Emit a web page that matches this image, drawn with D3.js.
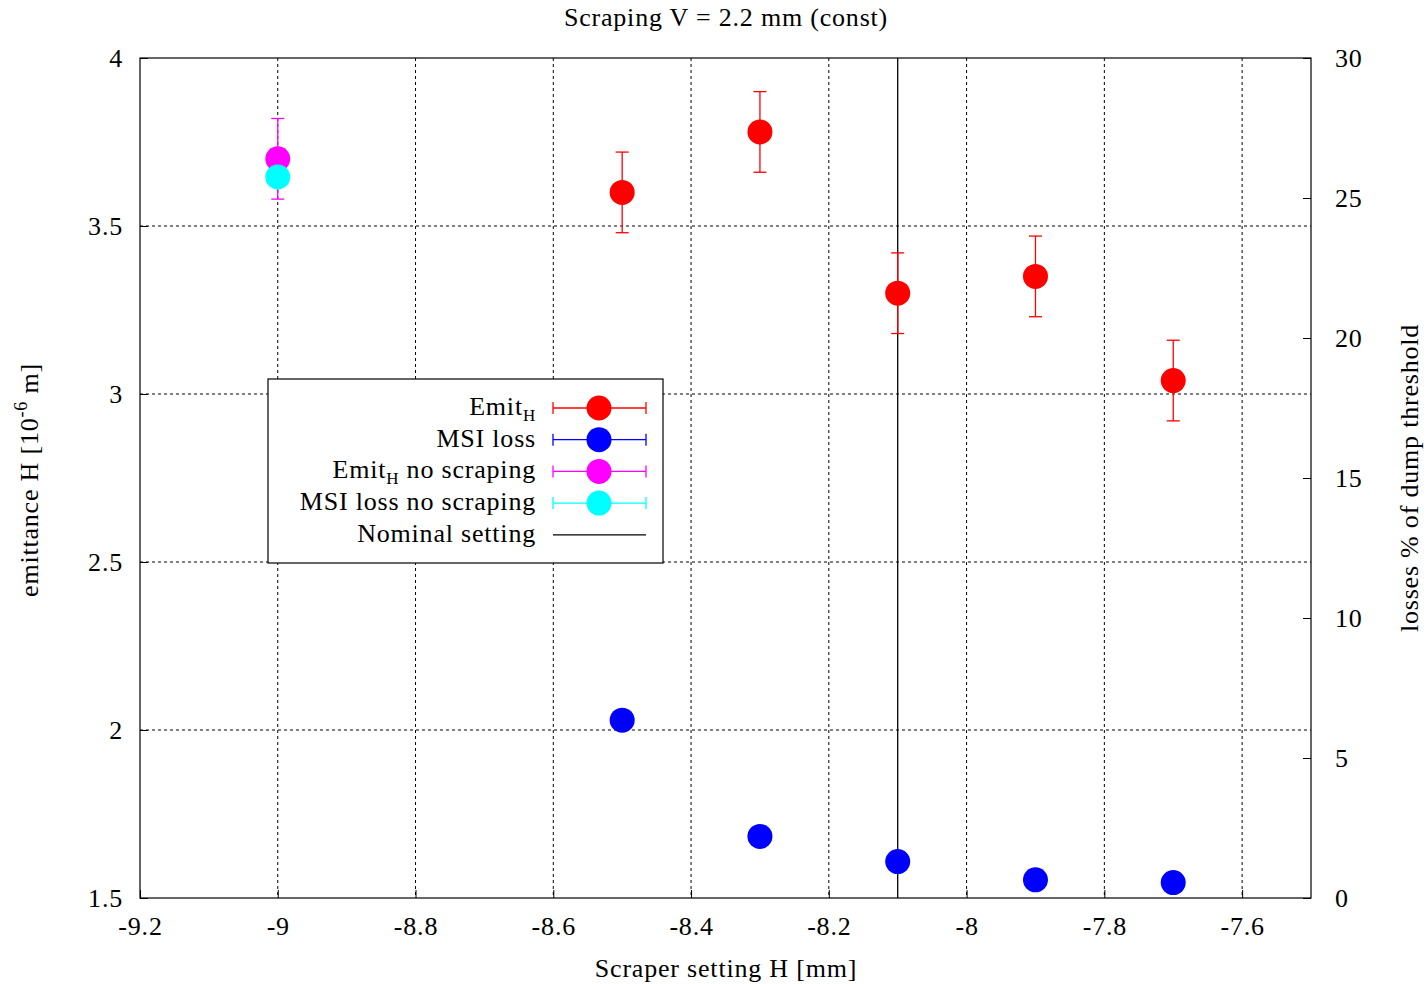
<!DOCTYPE html>
<html>
<head>
<meta charset="utf-8">
<script src="https://cdn.jsdelivr.net/npm/d3@7"></script>
<style>
  body { margin: 0; background: #fff; }
  text { font-family: "Liberation Serif", "DejaVu Serif", serif; fill: #000; letter-spacing: 0.8px; }
</style>
</head>
<body>
<div class="chart"></div>
<script>
// scraper setting H [mm]
const scraperH = [-8.5, -8.3, -8.1, -7.9, -7.7];
// emittance H [1e-6 m] with symmetric error
const emitH = [3.60, 3.78, 3.30, 3.35, 3.04];
const emitErr = [0.12, 0.12, 0.12, 0.12, 0.12];
// MSI loss, % of dump threshold (right axis)
const msiLoss = [6.35, 2.2, 1.3, 0.65, 0.55];
// no scraping reference
const noScrapeH = [-9.0];
const emitNoScrape = [3.70];
const emitNoScrapeErr = [0.12];
const msiNoScrape = [25.75];
const nominalH = -8.1;

const xTicks = [-9.2, -9, -8.8, -8.6, -8.4, -8.2, -8, -7.8, -7.6];
const yTicks = [1.5, 2, 2.5, 3, 3.5, 4];
const y2Ticks = [0, 5, 10, 15, 20, 25, 30];

const W = 1428, H = 984;
const margin = { top: 58, right: 117, bottom: 86, left: 140 };
const width = W - margin.left - margin.right;
const height = H - margin.top - margin.bottom;

const svg = d3.select(".chart").append("svg")
    .attr("width", W).attr("height", H);
const g = svg.append("g")
    .attr("transform", "translate(" + margin.left + "," + margin.top + ")");

const x = d3.scaleLinear().domain([-9.2, -7.5]).range([0, width]);
const y = d3.scaleLinear().domain([1.5, 4]).range([height, 0]);
const y2 = d3.scaleLinear().domain([0, 30]).range([height, 0]);

// grid
g.selectAll(".gx").data(xTicks.slice(1)).enter().append("line")
    .attr("x1", d => x(d)).attr("x2", d => x(d))
    .attr("y1", 0).attr("y2", height)
    .attr("stroke", "#000").attr("stroke-width", 1)
    .attr("stroke-dasharray", "3,3");
g.selectAll(".gy").data(yTicks.slice(1, -1)).enter().append("line")
    .attr("x1", 0).attr("x2", width)
    .attr("y1", d => y(d)).attr("y2", d => y(d))
    .attr("stroke", "#000").attr("stroke-width", 1)
    .attr("stroke-dasharray", "3,3");

// axes (ticks pointing inward), plain hyphen minus like the original
const fs = 26;
const fmt = d => String(d);
const xAxis = g.append("g").attr("transform", "translate(0," + height + ")")
    .call(d3.axisBottom(x).tickValues(xTicks).tickFormat(fmt).tickSizeInner(-8).tickSizeOuter(0).tickPadding(21));
const yAxis = g.append("g")
    .call(d3.axisLeft(y).tickValues(yTicks).tickFormat(fmt).tickSizeInner(-8).tickSizeOuter(0).tickPadding(17));
const y2Axis = g.append("g").attr("transform", "translate(" + width + ",0)")
    .call(d3.axisRight(y2).tickValues(y2Ticks).tickFormat(fmt).tickSizeInner(-8).tickSizeOuter(0).tickPadding(24));
[xAxis, yAxis, y2Axis].forEach(a => {
    a.select(".domain").remove();
    a.selectAll("text").style("font-size", fs + "px").attr("font-family", null);
    a.selectAll("line").attr("stroke", "#000");
});
xAxis.selectAll("text").attr("dy", "0.6em");

// border
g.append("rect").attr("x", 0).attr("y", 0).attr("width", width).attr("height", height)
    .attr("fill", "none").attr("stroke", "#000").attr("stroke-width", 1.2);

// nominal setting
g.append("line")
    .attr("x1", x(nominalH)).attr("x2", x(nominalH))
    .attr("y1", 0).attr("y2", height)
    .attr("stroke", "#000").attr("stroke-width", 1.3);

const R = 12.5, cap = 6.5;
function errorBars(xs, ys, es, scale, color) {
    const eg = g.append("g").attr("stroke", color).attr("stroke-width", 1.3);
    xs.forEach((xv, i) => {
        const px = x(xv), lo = scale(ys[i] - es[i]), hi = scale(ys[i] + es[i]);
        eg.append("line").attr("x1", px).attr("x2", px).attr("y1", lo).attr("y2", hi);
        eg.append("line").attr("x1", px - cap).attr("x2", px + cap).attr("y1", lo).attr("y2", lo);
        eg.append("line").attr("x1", px - cap).attr("x2", px + cap).attr("y1", hi).attr("y2", hi);
    });
}
function points(xs, ys, scale, color) {
    g.append("g").selectAll("circle").data(xs).enter().append("circle")
        .attr("cx", d => x(d)).attr("cy", (d, i) => scale(ys[i]))
        .attr("r", R).attr("fill", color);
}

errorBars(scraperH, emitH, emitErr, y, "#ff0000");
points(scraperH, emitH, y, "#ff0000");
points(scraperH, msiLoss, y2, "#0000ff");
errorBars(noScrapeH, emitNoScrape, emitNoScrapeErr, y, "#ff00ff");
points(noScrapeH, emitNoScrape, y, "#ff00ff");
points(noScrapeH, msiNoScrape, y2, "#00ffff");

// legend
const legendItems = [
    { name: "Emit", sub: "H", rest: "", color: "#ff0000", marker: true },
    { name: "MSI loss", sub: "", rest: "", color: "#0000ff", marker: true },
    { name: "Emit", sub: "H", rest: " no scraping", color: "#ff00ff", marker: true },
    { name: "MSI loss no scraping", sub: "", rest: "", color: "#00ffff", marker: true },
    { name: "Nominal setting", sub: "", rest: "", color: "#000", marker: false }
];
const lg = svg.append("g").attr("transform", "translate(268,379)");
lg.append("rect").attr("width", 395).attr("height", 184)
    .attr("fill", "#fff").attr("stroke", "#000").attr("stroke-width", 1.2);
legendItems.forEach((it, i) => {
    const cy = 29 + i * 31.7;
    const t = lg.append("text").attr("x", 268).attr("y", cy + 7)
        .attr("text-anchor", "end").style("font-size", fs + "px");
    t.append("tspan").text(it.name);
    if (it.sub) {
        t.append("tspan").text(it.sub).attr("dy", 6).style("font-size", "17px");
        if (it.rest) t.append("tspan").text(it.rest).attr("dy", -6);
    }
    const row = lg.append("g").attr("stroke", it.color).attr("stroke-width", 1.3);
    row.append("line").attr("x1", 285).attr("x2", 378).attr("y1", cy).attr("y2", cy);
    if (it.marker) {
        row.append("line").attr("x1", 285).attr("x2", 285).attr("y1", cy - 6).attr("y2", cy + 6);
        row.append("line").attr("x1", 378).attr("x2", 378).attr("y1", cy - 6).attr("y2", cy + 6);
        lg.append("circle").attr("cx", 331).attr("cy", cy).attr("r", R).attr("fill", it.color);
    }
});

// titles
svg.append("text").attr("x", 726).attr("y", 26).attr("text-anchor", "middle")
    .style("font-size", fs + "px").text("Scraping V = 2.2 mm (const)");
svg.append("text").attr("x", 726).attr("y", 977).attr("text-anchor", "middle")
    .style("font-size", fs + "px").text("Scraper setting H [mm]");
const yl = svg.append("text").attr("transform", "translate(38,480) rotate(-90)")
    .attr("text-anchor", "middle").style("font-size", fs + "px");
yl.append("tspan").text("emittance H [10");
yl.append("tspan").text("-6").attr("dy", -11).style("font-size", "18px");
yl.append("tspan").text(" m]").attr("dy", 11);
svg.append("text").attr("transform", "translate(1418,478) rotate(-90)")
    .attr("text-anchor", "middle").style("font-size", fs + "px")
    .text("losses % of dump threshold");
</script>
</body>
</html>
